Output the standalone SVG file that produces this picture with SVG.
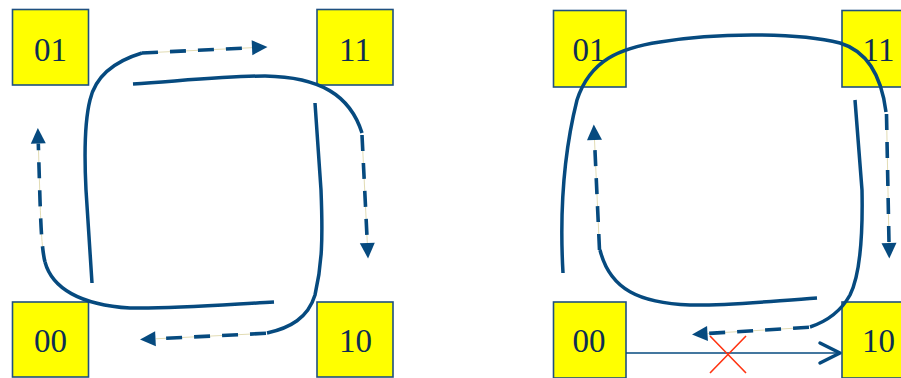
<svg xmlns="http://www.w3.org/2000/svg" width="901" height="378" viewBox="0 0 901 378">
  <style>
    .box { fill: #ffff00; stroke: #1f5080; stroke-width: 1.6; }
    .lbl { font-family: "Liberation Serif", "Times New Roman", serif; font-size: 33px; fill: #0d2d55; text-anchor: middle; }
    .solid { fill: none; stroke: #064a7f; stroke-width: 3.5; }
    .guide { fill: none; stroke: #e2dcb4; stroke-width: 1; }
    .dash { fill: none; stroke: #064a7f; stroke-width: 3.6; stroke-dasharray: 16 12; marker-end: url(#tri); }
    .link { fill: none; stroke: #064a7f; stroke-width: 1.5; }
    .chev { fill: none; stroke: #064a7f; stroke-width: 3.5; stroke-linecap: round; stroke-linejoin: round; }
    .cross { fill: none; stroke: #ff3311; stroke-width: 1.6; }
  </style>
  <defs>
    <marker id="tri" markerUnits="userSpaceOnUse" markerWidth="17" markerHeight="16" refX="0" refY="7.5" orient="auto" overflow="visible">
      <path d="M0,0 L15.5,7.5 L0,15 Z" fill="#064a7f"/>
    </marker>
  </defs>

  <!-- left panel states -->
  <g id="L01"><rect class="box" x="12.5" y="9.5" width="76" height="75.5"/><text class="lbl" x="50.5" y="60.5">01</text></g>
  <g id="L11"><rect class="box" x="317" y="9.5" width="76" height="75.5"/><text class="lbl" x="355" y="60.5">11</text></g>
  <g id="L00"><rect class="box" x="12.5" y="302" width="76" height="75"/><text class="lbl" x="50.5" y="352">00</text></g>
  <g id="L10"><rect class="box" x="317" y="302" width="76" height="75"/><text class="lbl" x="355.5" y="352">10</text></g>

  <!-- right panel states -->
  <g id="R01"><rect class="box" x="553.5" y="10.5" width="72.5" height="76.5"/><text class="lbl" x="589" y="61">01</text></g>
  <g id="R11"><rect class="box" x="842" y="10.5" width="73" height="76.5"/><text class="lbl" x="878.5" y="61">11</text></g>
  <g id="R00"><rect class="box" x="553.5" y="302" width="72.5" height="76"/><text class="lbl" x="589" y="352">00</text></g>
  <g id="R10"><rect class="box" x="842" y="302" width="73" height="76"/><text class="lbl" x="878.5" y="352">10</text></g>

  <g id="connectors">
    <!-- left panel: four turning paths, each ending in a dashed arrow -->
    <path class="solid" d="M92,283 L86,190 C84,150 85,120 90,100 C95,78 112,62 142,53"/>
    <path class="guide" d="M142,53 L252,47.7"/>
    <path class="dash" d="M142,53 L252,47.7"/>

    <path class="solid" d="M133,84 C190,80 230,76 265,76 C320,77 350,95 362,133"/>
    <path class="guide" d="M362,135 L367.3,243"/>
    <path class="dash" d="M362,135 L367.3,243"/>

    <path class="solid" d="M315,103 L321,190 C323,240 322,265 315,295 C308,318 290,328 267,333"/>
    <path class="guide" d="M266,333.3 L155.5,338.8"/>
    <path class="dash" d="M266,333.3 L155.5,338.8"/>

    <path class="solid" d="M274,302 C220,305 170,309 130,308 C80,305 52,288 45,262"/>
    <path class="guide" d="M45,262 C42,250 41,230 40,200 L38.3,143.5"/>
    <path class="dash" d="M45,262 C42,250 41,230 40,200 L38.3,143.5"/>

    <!-- right panel -->
    <path class="solid" d="M563,273 C560,220 562,160 577,100 C590,60 620,48 660,42 C720,32 800,33 840,43 C870,52 882,80 886,112"/>
    <path class="guide" d="M886.5,114 L889,243"/>
    <path class="dash" d="M886.5,114 L889,243"/>

    <path class="solid" d="M855,100 L862,190 C863,240 860,275 850,295 C840,313 825,322 810,327"/>
    <path class="guide" d="M809,327.3 L707.5,333.5"/>
    <path class="dash" d="M809,327.3 L707.5,333.5"/>

    <path class="solid" d="M817,298 C760,302 720,306 690,305 C640,303 610,290 600,250"/>
    <path class="guide" d="M599.5,250 L594.5,140"/>
    <path class="dash" d="M599.5,250 L594.5,140"/>

    <!-- blocked direct transition 00 -> 10 -->
    <path class="link" d="M626,353 L841,353"/>
    <path class="chev" d="M820,343 L840,353 L820,363"/>
    <path class="cross" d="M710,336 L746,373 M746,336 L710,373"/>
  </g>
</svg>
